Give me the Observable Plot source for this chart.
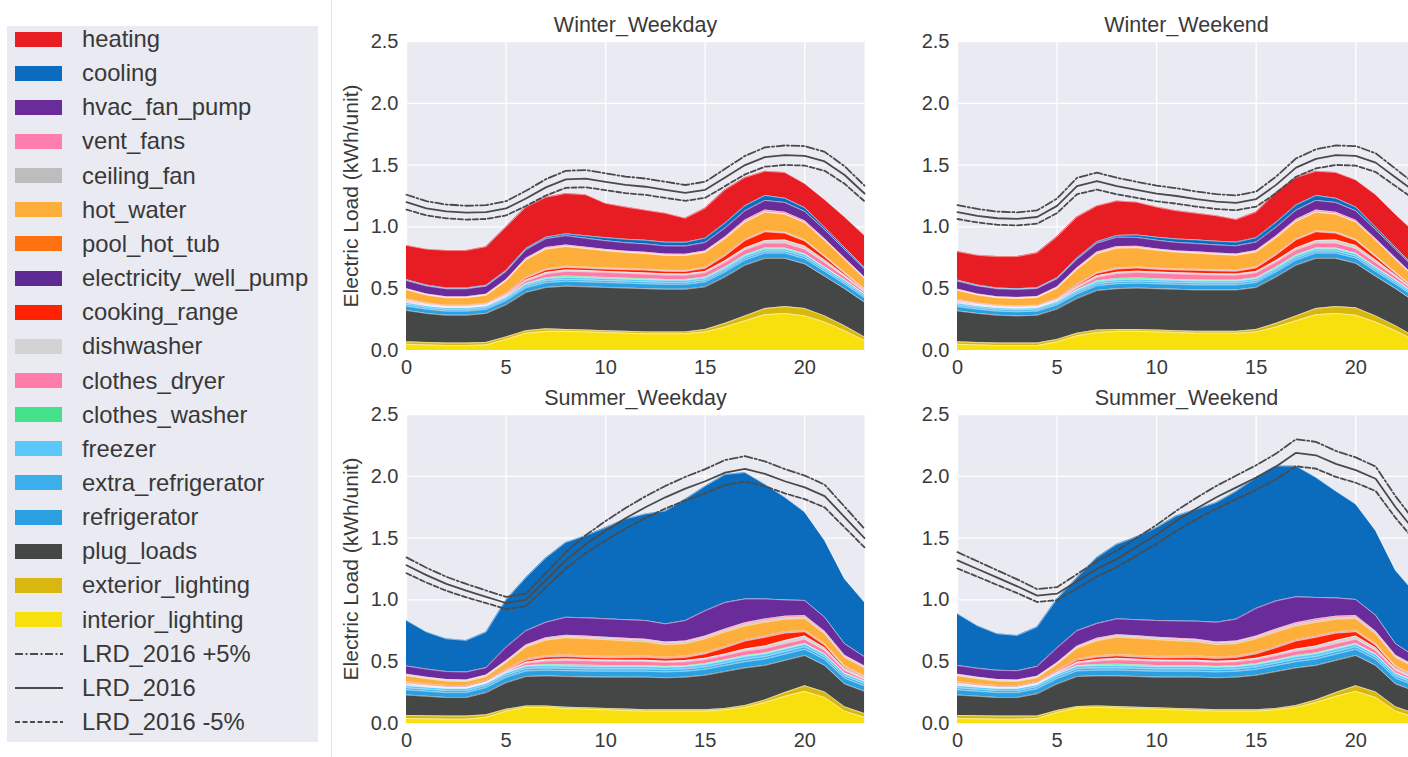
<!DOCTYPE html>
<html><head><meta charset="utf-8">
<script src="https://cdn.jsdelivr.net/npm/d3@7"></script>
<script src="https://cdn.jsdelivr.net/npm/@observablehq/plot@0.6"></script>
<style>
body{margin:0;background:#fff;}
#root{position:relative;width:1408px;height:757px;overflow:hidden;font-family:"Liberation Sans",Arial,sans-serif;background:#fff;}
.panel{position:absolute;}
#legend{position:absolute;left:7px;top:26px;width:311px;height:716px;background:#eaeaf2;}
.item{position:absolute;left:0;height:30px;width:311px;}
.item .lab{position:absolute;left:75px;top:0;line-height:30px;font-size:23.8px;color:#383838;white-space:nowrap;}
#sep{position:absolute;left:331px;top:0;width:1px;height:757px;background:#e4e4e4;}
</style></head><body><div id="root"><div id="sep"></div><div id="legend"></div></div>
<script>
// ---------- categories (legend order, top of stack first) ----------
const categories = ["heating","cooling","hvac_fan_pump","vent_fans","ceiling_fan","hot_water","pool_hot_tub","electricity_well_pump","cooking_range","dishwasher","clothes_dryer","clothes_washer","freezer","extra_refrigerator","refrigerator","plug_loads","exterior_lighting","interior_lighting"];
const colors = ["#e81c23","#0b6cbd","#6a2c9b","#ff7eb0","#bdbdbd","#fdae3b","#ff7210","#5e2b94","#ff2200","#d3d3d3","#ff7ba9","#45e08a","#5cc8fa","#3aafec","#2c9fe0","#444746","#d9b70f","#f8e00f"];
const lineNames = ["LRD_2016 +5%","LRD_2016","LRD_2016 -5%"];
const hours = [0,1,2,3,4,5,6,7,8,9,10,11,12,13,14,15,16,17,18,19,20,21,22,23];
const xTicks = [0,5,10,15,20];
const yTicks = [0,0.5,1,1.5,2,2.5];
const panelTitles = ["Winter_Weekday","Winter_Weekend","Summer_Weekday","Summer_Weekend"];

// ---------- Winter_Weekday ----------
const wd_interior_lighting = [0.05,0.045,0.04,0.04,0.045,0.09,0.14,0.155,0.155,0.15,0.145,0.14,0.135,0.135,0.135,0.15,0.19,0.24,0.29,0.30,0.28,0.23,0.16,0.08];
const wd_exterior_lighting = [0.02,0.02,0.02,0.02,0.02,0.02,0.02,0.02,0.015,0.015,0.015,0.015,0.015,0.015,0.015,0.02,0.03,0.04,0.05,0.055,0.06,0.05,0.04,0.03];
const wd_plug_loads = [0.254,0.235,0.225,0.225,0.235,0.26,0.31,0.335,0.35,0.35,0.35,0.35,0.35,0.345,0.345,0.345,0.375,0.41,0.405,0.39,0.36,0.32,0.30,0.28];
const wd_refrigerator = [0.035,0.034,0.033,0.033,0.033,0.034,0.037,0.039,0.04,0.04,0.04,0.04,0.04,0.04,0.04,0.04,0.041,0.042,0.043,0.043,0.042,0.04,0.038,0.036];
const wd_extra_refrigerator = [0.013,0.013,0.013,0.013,0.013,0.013,0.014,0.015,0.015,0.015,0.015,0.015,0.015,0.015,0.015,0.015,0.015,0.016,0.016,0.016,0.016,0.015,0.014,0.014];
const wd_freezer = [0.015,0.015,0.015,0.015,0.015,0.015,0.016,0.017,0.017,0.017,0.017,0.017,0.017,0.017,0.017,0.017,0.017,0.018,0.018,0.018,0.018,0.017,0.016,0.016];
const wd_clothes_washer = [0.002,0.001,0.001,0.001,0.001,0.002,0.005,0.008,0.01,0.01,0.009,0.008,0.008,0.007,0.007,0.007,0.007,0.008,0.008,0.007,0.006,0.005,0.004,0.003];
const wd_clothes_dryer = [0.008,0.005,0.004,0.004,0.004,0.008,0.02,0.03,0.038,0.04,0.04,0.04,0.038,0.036,0.035,0.035,0.038,0.04,0.04,0.04,0.038,0.035,0.025,0.015];
const wd_dishwasher = [0.006,0.004,0.003,0.003,0.003,0.004,0.008,0.012,0.012,0.01,0.009,0.009,0.01,0.01,0.01,0.011,0.013,0.016,0.02,0.025,0.025,0.02,0.014,0.009];
const wd_cooking_range = [0.004,0.003,0.003,0.003,0.004,0.008,0.015,0.02,0.02,0.018,0.018,0.02,0.022,0.02,0.02,0.025,0.04,0.06,0.07,0.055,0.04,0.025,0.012,0.006];
const wd_electricity_well_pump = [0.004,0.004,0.004,0.004,0.004,0.004,0.004,0.004,0.004,0.004,0.004,0.004,0.004,0.004,0.004,0.004,0.004,0.004,0.004,0.004,0.004,0.004,0.004,0.004];
const wd_pool_hot_tub = [0.005,0.005,0.005,0.005,0.005,0.005,0.005,0.005,0.005,0.005,0.005,0.005,0.005,0.005,0.005,0.005,0.005,0.005,0.005,0.005,0.005,0.005,0.005,0.005];
const wd_hot_water = [0.075,0.065,0.06,0.06,0.065,0.10,0.14,0.16,0.16,0.15,0.14,0.13,0.125,0.12,0.12,0.12,0.13,0.14,0.15,0.145,0.14,0.125,0.105,0.085];
const wd_ceiling_fan = [0.003,0.003,0.003,0.003,0.003,0.003,0.003,0.003,0.003,0.003,0.003,0.003,0.003,0.003,0.003,0.003,0.003,0.003,0.003,0.003,0.003,0.003,0.003,0.003];
const wd_vent_fans = [0.006,0.005,0.005,0.005,0.005,0.006,0.009,0.01,0.01,0.009,0.008,0.008,0.008,0.008,0.008,0.009,0.011,0.013,0.014,0.013,0.012,0.01,0.008,0.007];
const wd_hvac_fan_pump = [0.065,0.065,0.065,0.065,0.066,0.068,0.07,0.072,0.075,0.072,0.07,0.068,0.067,0.066,0.066,0.068,0.072,0.075,0.078,0.078,0.076,0.073,0.07,0.067];
const wd_cooling = [0.008,0.007,0.006,0.006,0.006,0.007,0.01,0.012,0.015,0.02,0.025,0.028,0.03,0.03,0.03,0.035,0.04,0.042,0.04,0.035,0.03,0.02,0.015,0.01];
const wd_heating = [0.277,0.291,0.305,0.305,0.313,0.353,0.334,0.323,0.326,0.332,0.277,0.26,0.243,0.234,0.195,0.241,0.269,0.228,0.196,0.208,0.195,0.223,0.247,0.26];
const wd_lrd = [1.20,1.15,1.125,1.115,1.12,1.15,1.23,1.32,1.385,1.39,1.365,1.34,1.325,1.30,1.275,1.30,1.40,1.50,1.565,1.58,1.575,1.53,1.42,1.27];
const wd_lrd_plus = [1.26,1.208,1.181,1.171,1.176,1.208,1.292,1.386,1.454,1.46,1.433,1.407,1.391,1.365,1.339,1.365,1.47,1.575,1.643,1.659,1.654,1.607,1.491,1.334];
const wd_lrd_minus = [1.14,1.093,1.069,1.059,1.064,1.093,1.169,1.254,1.316,1.321,1.297,1.273,1.259,1.235,1.211,1.235,1.33,1.425,1.487,1.501,1.496,1.454,1.349,1.207];

// ---------- Winter_Weekend ----------
const we_interior_lighting = [0.05,0.045,0.04,0.04,0.04,0.07,0.12,0.145,0.155,0.155,0.15,0.145,0.14,0.14,0.14,0.15,0.19,0.24,0.29,0.30,0.285,0.23,0.16,0.08];
const we_exterior_lighting = [0.02,0.02,0.02,0.02,0.02,0.02,0.02,0.02,0.015,0.015,0.015,0.015,0.015,0.015,0.015,0.02,0.03,0.04,0.05,0.055,0.06,0.05,0.04,0.03];
const we_plug_loads = [0.25,0.235,0.225,0.22,0.225,0.245,0.28,0.32,0.33,0.335,0.335,0.335,0.335,0.335,0.335,0.34,0.375,0.41,0.405,0.39,0.36,0.32,0.30,0.28];
const we_refrigerator = [0.035,0.034,0.033,0.033,0.033,0.034,0.037,0.039,0.04,0.04,0.04,0.04,0.04,0.04,0.04,0.04,0.041,0.042,0.043,0.043,0.042,0.04,0.038,0.036];
const we_extra_refrigerator = [0.013,0.013,0.013,0.013,0.013,0.013,0.014,0.015,0.015,0.015,0.015,0.015,0.015,0.015,0.015,0.015,0.015,0.016,0.016,0.016,0.016,0.015,0.014,0.014];
const we_freezer = [0.015,0.015,0.015,0.015,0.015,0.015,0.016,0.017,0.017,0.017,0.017,0.017,0.017,0.017,0.017,0.017,0.017,0.018,0.018,0.018,0.018,0.017,0.016,0.016];
const we_clothes_washer = [0.002,0.001,0.001,0.001,0.001,0.002,0.005,0.008,0.01,0.01,0.009,0.008,0.008,0.007,0.007,0.007,0.007,0.008,0.008,0.007,0.006,0.005,0.004,0.003];
const we_clothes_dryer = [0.008,0.005,0.004,0.004,0.004,0.006,0.015,0.028,0.04,0.045,0.045,0.045,0.044,0.042,0.04,0.04,0.04,0.04,0.04,0.04,0.038,0.035,0.025,0.015];
const we_dishwasher = [0.006,0.004,0.003,0.003,0.003,0.004,0.008,0.012,0.012,0.01,0.009,0.009,0.01,0.01,0.01,0.011,0.013,0.016,0.02,0.025,0.025,0.02,0.014,0.009];
const we_cooking_range = [0.004,0.003,0.003,0.003,0.003,0.006,0.012,0.02,0.025,0.025,0.022,0.022,0.024,0.022,0.022,0.028,0.045,0.065,0.07,0.055,0.04,0.025,0.012,0.006];
const we_electricity_well_pump = [0.004,0.004,0.004,0.004,0.004,0.004,0.004,0.004,0.004,0.004,0.004,0.004,0.004,0.004,0.004,0.004,0.004,0.004,0.004,0.004,0.004,0.004,0.004,0.004];
const we_pool_hot_tub = [0.005,0.005,0.005,0.005,0.005,0.005,0.005,0.005,0.005,0.005,0.005,0.005,0.005,0.005,0.005,0.005,0.005,0.005,0.005,0.005,0.005,0.005,0.005,0.005];
const we_hot_water = [0.075,0.065,0.06,0.06,0.062,0.08,0.12,0.15,0.16,0.155,0.145,0.135,0.13,0.125,0.12,0.12,0.13,0.14,0.15,0.145,0.14,0.125,0.105,0.085];
const we_ceiling_fan = [0.003,0.003,0.003,0.003,0.003,0.003,0.003,0.003,0.003,0.003,0.003,0.003,0.003,0.003,0.003,0.003,0.003,0.003,0.003,0.003,0.003,0.003,0.003,0.003];
const we_vent_fans = [0.006,0.005,0.005,0.005,0.005,0.006,0.009,0.01,0.01,0.009,0.008,0.008,0.008,0.008,0.008,0.009,0.011,0.013,0.014,0.013,0.012,0.01,0.008,0.007];
const we_hvac_fan_pump = [0.065,0.065,0.065,0.065,0.066,0.068,0.07,0.072,0.075,0.072,0.07,0.068,0.067,0.066,0.066,0.068,0.072,0.075,0.078,0.078,0.076,0.073,0.07,0.067];
const we_cooling = [0.008,0.007,0.006,0.006,0.006,0.007,0.01,0.012,0.015,0.02,0.025,0.028,0.03,0.03,0.03,0.035,0.04,0.042,0.04,0.035,0.03,0.02,0.015,0.01];
const we_heating = [0.231,0.241,0.255,0.26,0.282,0.332,0.332,0.29,0.279,0.265,0.243,0.228,0.215,0.206,0.183,0.208,0.242,0.223,0.196,0.208,0.22,0.263,0.267,0.28];
const we_lrd = [1.12,1.09,1.07,1.065,1.08,1.17,1.33,1.37,1.33,1.30,1.27,1.25,1.225,1.205,1.195,1.225,1.34,1.48,1.55,1.58,1.575,1.52,1.40,1.28];
const we_lrd_plus = [1.176,1.145,1.124,1.118,1.134,1.229,1.397,1.439,1.397,1.365,1.334,1.313,1.286,1.265,1.255,1.286,1.407,1.554,1.628,1.659,1.654,1.596,1.47,1.344];
const we_lrd_minus = [1.064,1.036,1.017,1.012,1.026,1.112,1.264,1.302,1.264,1.235,1.207,1.188,1.164,1.145,1.135,1.164,1.273,1.406,1.473,1.501,1.496,1.444,1.33,1.216];

// ---------- Summer_Weekday ----------
const sd_interior_lighting = [0.04,0.038,0.035,0.035,0.05,0.10,0.13,0.13,0.12,0.115,0.11,0.105,0.10,0.10,0.10,0.10,0.11,0.13,0.17,0.22,0.26,0.21,0.10,0.05];
const sd_exterior_lighting = [0.025,0.025,0.025,0.025,0.02,0.015,0.012,0.012,0.012,0.012,0.012,0.012,0.012,0.012,0.012,0.012,0.012,0.015,0.02,0.03,0.045,0.045,0.035,0.03];
const sd_plug_loads = [0.165,0.157,0.15,0.15,0.18,0.215,0.238,0.243,0.248,0.25,0.253,0.258,0.263,0.258,0.263,0.278,0.298,0.305,0.28,0.26,0.245,0.215,0.185,0.18];
const sd_refrigerator = [0.042,0.041,0.04,0.04,0.041,0.043,0.045,0.046,0.047,0.047,0.047,0.047,0.047,0.047,0.047,0.048,0.049,0.05,0.051,0.051,0.05,0.048,0.046,0.044];
const sd_extra_refrigerator = [0.016,0.016,0.016,0.016,0.016,0.017,0.018,0.018,0.018,0.018,0.018,0.018,0.018,0.018,0.018,0.019,0.019,0.02,0.02,0.02,0.02,0.019,0.018,0.017];
const sd_freezer = [0.018,0.018,0.018,0.018,0.018,0.019,0.02,0.02,0.02,0.02,0.02,0.02,0.02,0.02,0.02,0.021,0.021,0.022,0.022,0.022,0.022,0.021,0.02,0.019];
const sd_clothes_washer = [0.002,0.001,0.001,0.001,0.001,0.002,0.005,0.008,0.01,0.01,0.009,0.008,0.008,0.007,0.007,0.007,0.007,0.008,0.008,0.007,0.006,0.005,0.004,0.003];
const sd_clothes_dryer = [0.008,0.005,0.004,0.004,0.004,0.008,0.02,0.028,0.035,0.035,0.035,0.035,0.034,0.032,0.032,0.032,0.034,0.036,0.036,0.036,0.034,0.03,0.022,0.014];
const sd_dishwasher = [0.006,0.004,0.003,0.003,0.003,0.004,0.008,0.012,0.012,0.01,0.009,0.009,0.01,0.01,0.01,0.011,0.013,0.016,0.02,0.025,0.025,0.02,0.014,0.009];
const sd_cooking_range = [0.004,0.003,0.003,0.003,0.004,0.008,0.015,0.02,0.02,0.018,0.018,0.02,0.022,0.022,0.025,0.035,0.05,0.065,0.07,0.06,0.035,0.02,0.01,0.006];
const sd_electricity_well_pump = [0.004,0.004,0.004,0.004,0.004,0.004,0.004,0.004,0.004,0.004,0.004,0.004,0.004,0.004,0.004,0.004,0.004,0.004,0.004,0.004,0.004,0.004,0.004,0.004];
const sd_pool_hot_tub = [0.008,0.008,0.008,0.008,0.008,0.008,0.008,0.008,0.008,0.008,0.008,0.008,0.008,0.008,0.008,0.008,0.008,0.008,0.008,0.008,0.008,0.008,0.008,0.008];
const sd_hot_water = [0.047,0.042,0.036,0.032,0.03,0.05,0.095,0.125,0.14,0.14,0.135,0.125,0.115,0.1,0.1,0.11,0.115,0.11,0.11,0.1,0.095,0.08,0.068,0.065];
const sd_ceiling_fan = [0.008,0.008,0.008,0.008,0.008,0.008,0.009,0.01,0.01,0.011,0.012,0.012,0.013,0.013,0.013,0.013,0.013,0.013,0.013,0.012,0.012,0.011,0.01,0.009];
const sd_vent_fans = [0.006,0.005,0.005,0.005,0.005,0.006,0.009,0.01,0.01,0.009,0.008,0.008,0.008,0.008,0.008,0.009,0.011,0.013,0.014,0.013,0.012,0.01,0.008,0.007];
const sd_hvac_fan_pump = [0.066,0.065,0.064,0.065,0.06,0.11,0.115,0.125,0.145,0.148,0.149,0.151,0.151,0.147,0.166,0.205,0.215,0.193,0.162,0.132,0.122,0.114,0.093,0.075];
const sd_cooling = [0.368,0.30,0.265,0.255,0.288,0.383,0.429,0.521,0.606,0.665,0.738,0.815,0.862,0.914,0.982,1.008,1.036,1.022,0.927,0.83,0.715,0.62,0.525,0.44];
const sd_heating = [0,0,0,0,0,0,0,0,0,0,0,0,0,0,0,0,0,0,0,0,0,0,0,0];
const sd_lrd = [1.28,1.20,1.13,1.075,1.025,0.975,1.0,1.16,1.32,1.45,1.56,1.66,1.75,1.83,1.90,1.96,2.03,2.06,2.02,1.96,1.91,1.84,1.67,1.50];
const sd_lrd_plus = [1.344,1.26,1.187,1.129,1.076,1.024,1.05,1.218,1.386,1.523,1.638,1.743,1.838,1.922,1.995,2.058,2.132,2.163,2.121,2.058,2.006,1.932,1.754,1.575];
const sd_lrd_minus = [1.216,1.14,1.074,1.021,0.974,0.926,0.95,1.102,1.254,1.378,1.482,1.577,1.663,1.739,1.805,1.862,1.929,1.957,1.919,1.862,1.815,1.748,1.587,1.425];

// ---------- Summer_Weekend ----------
const se_interior_lighting = [0.04,0.038,0.035,0.035,0.04,0.09,0.125,0.13,0.125,0.12,0.115,0.11,0.105,0.10,0.10,0.10,0.11,0.13,0.17,0.22,0.26,0.21,0.10,0.05];
const se_exterior_lighting = [0.025,0.025,0.025,0.025,0.02,0.015,0.012,0.012,0.012,0.012,0.012,0.012,0.012,0.012,0.012,0.012,0.012,0.015,0.02,0.03,0.045,0.045,0.035,0.03];
const se_plug_loads = [0.165,0.157,0.15,0.15,0.18,0.215,0.243,0.243,0.248,0.248,0.248,0.253,0.258,0.258,0.263,0.278,0.298,0.305,0.28,0.26,0.245,0.215,0.185,0.18];
const se_refrigerator = [0.042,0.041,0.04,0.04,0.041,0.043,0.045,0.046,0.047,0.047,0.047,0.047,0.047,0.047,0.047,0.048,0.049,0.05,0.051,0.051,0.05,0.048,0.046,0.044];
const se_extra_refrigerator = [0.016,0.016,0.016,0.016,0.016,0.017,0.018,0.018,0.018,0.018,0.018,0.018,0.018,0.018,0.018,0.019,0.019,0.02,0.02,0.02,0.02,0.019,0.018,0.017];
const se_freezer = [0.018,0.018,0.018,0.018,0.018,0.019,0.02,0.02,0.02,0.02,0.02,0.02,0.02,0.02,0.02,0.021,0.021,0.022,0.022,0.022,0.022,0.021,0.02,0.019];
const se_clothes_washer = [0.002,0.001,0.001,0.001,0.001,0.002,0.005,0.008,0.01,0.01,0.009,0.008,0.008,0.007,0.007,0.007,0.007,0.008,0.008,0.007,0.006,0.005,0.004,0.003];
const se_clothes_dryer = [0.008,0.005,0.004,0.004,0.004,0.008,0.02,0.028,0.035,0.035,0.035,0.035,0.034,0.032,0.032,0.032,0.034,0.036,0.036,0.036,0.034,0.03,0.022,0.014];
const se_dishwasher = [0.006,0.004,0.003,0.003,0.003,0.004,0.008,0.012,0.012,0.01,0.009,0.009,0.01,0.01,0.01,0.011,0.013,0.016,0.02,0.025,0.025,0.02,0.014,0.009];
const se_cooking_range = [0.004,0.003,0.003,0.003,0.004,0.008,0.015,0.02,0.02,0.018,0.018,0.02,0.022,0.022,0.025,0.035,0.05,0.065,0.07,0.06,0.035,0.02,0.01,0.006];
const se_electricity_well_pump = [0.004,0.004,0.004,0.004,0.004,0.004,0.004,0.004,0.004,0.004,0.004,0.004,0.004,0.004,0.004,0.004,0.004,0.004,0.004,0.004,0.004,0.004,0.004,0.004];
const se_pool_hot_tub = [0.008,0.008,0.008,0.008,0.008,0.008,0.008,0.008,0.008,0.008,0.008,0.008,0.008,0.008,0.008,0.008,0.008,0.008,0.008,0.008,0.008,0.008,0.008,0.008];
const se_hot_water = [0.047,0.042,0.036,0.032,0.03,0.045,0.085,0.12,0.14,0.14,0.135,0.125,0.115,0.1,0.1,0.11,0.115,0.11,0.11,0.1,0.095,0.08,0.068,0.065];
const se_ceiling_fan = [0.008,0.008,0.008,0.008,0.008,0.008,0.009,0.01,0.01,0.011,0.012,0.012,0.013,0.013,0.013,0.013,0.013,0.013,0.013,0.012,0.012,0.011,0.01,0.009];
const se_vent_fans = [0.006,0.005,0.005,0.005,0.005,0.006,0.009,0.01,0.01,0.009,0.008,0.008,0.008,0.008,0.008,0.009,0.011,0.013,0.014,0.013,0.012,0.01,0.008,0.007];
const se_hvac_fan_pump = [0.07,0.072,0.074,0.075,0.08,0.12,0.125,0.12,0.128,0.13,0.135,0.141,0.146,0.16,0.178,0.225,0.228,0.21,0.174,0.148,0.13,0.13,0.093,0.075];
const se_cooling = [0.418,0.343,0.296,0.285,0.318,0.396,0.429,0.535,0.603,0.67,0.753,0.85,0.906,0.969,1.035,1.058,1.091,1.058,0.97,0.864,0.771,0.684,0.592,0.51];
const se_heating = [0,0,0,0,0,0,0,0,0,0,0,0,0,0,0,0,0,0,0,0,0,0,0,0];
const se_lrd = [1.32,1.25,1.18,1.11,1.035,1.05,1.15,1.25,1.33,1.43,1.53,1.64,1.74,1.83,1.91,1.99,2.08,2.19,2.17,2.10,2.05,1.98,1.75,1.55];
const se_lrd_plus = [1.386,1.313,1.239,1.166,1.087,1.103,1.208,1.313,1.397,1.502,1.607,1.722,1.827,1.922,2.006,2.09,2.184,2.30,2.279,2.205,2.153,2.079,1.838,1.628];
const se_lrd_minus = [1.254,1.188,1.121,1.055,0.983,0.998,1.093,1.188,1.264,1.359,1.454,1.558,1.653,1.739,1.815,1.891,1.976,2.081,2.062,1.995,1.948,1.881,1.663,1.473];

// ---------- assemble ----------
function seriesOf(prefix) {
  const src = {
    wd: {heating:wd_heating,cooling:wd_cooling,hvac_fan_pump:wd_hvac_fan_pump,vent_fans:wd_vent_fans,ceiling_fan:wd_ceiling_fan,hot_water:wd_hot_water,pool_hot_tub:wd_pool_hot_tub,electricity_well_pump:wd_electricity_well_pump,cooking_range:wd_cooking_range,dishwasher:wd_dishwasher,clothes_dryer:wd_clothes_dryer,clothes_washer:wd_clothes_washer,freezer:wd_freezer,extra_refrigerator:wd_extra_refrigerator,refrigerator:wd_refrigerator,plug_loads:wd_plug_loads,exterior_lighting:wd_exterior_lighting,interior_lighting:wd_interior_lighting, lines:[wd_lrd_plus,wd_lrd,wd_lrd_minus]},
    we: {heating:we_heating,cooling:we_cooling,hvac_fan_pump:we_hvac_fan_pump,vent_fans:we_vent_fans,ceiling_fan:we_ceiling_fan,hot_water:we_hot_water,pool_hot_tub:we_pool_hot_tub,electricity_well_pump:we_electricity_well_pump,cooking_range:we_cooking_range,dishwasher:we_dishwasher,clothes_dryer:we_clothes_dryer,clothes_washer:we_clothes_washer,freezer:we_freezer,extra_refrigerator:we_extra_refrigerator,refrigerator:we_refrigerator,plug_loads:we_plug_loads,exterior_lighting:we_exterior_lighting,interior_lighting:we_interior_lighting, lines:[we_lrd_plus,we_lrd,we_lrd_minus]},
    sd: {heating:sd_heating,cooling:sd_cooling,hvac_fan_pump:sd_hvac_fan_pump,vent_fans:sd_vent_fans,ceiling_fan:sd_ceiling_fan,hot_water:sd_hot_water,pool_hot_tub:sd_pool_hot_tub,electricity_well_pump:sd_electricity_well_pump,cooking_range:sd_cooking_range,dishwasher:sd_dishwasher,clothes_dryer:sd_clothes_dryer,clothes_washer:sd_clothes_washer,freezer:sd_freezer,extra_refrigerator:sd_extra_refrigerator,refrigerator:sd_refrigerator,plug_loads:sd_plug_loads,exterior_lighting:sd_exterior_lighting,interior_lighting:sd_interior_lighting, lines:[sd_lrd_plus,sd_lrd,sd_lrd_minus]},
    se: {heating:se_heating,cooling:se_cooling,hvac_fan_pump:se_hvac_fan_pump,vent_fans:se_vent_fans,ceiling_fan:se_ceiling_fan,hot_water:se_hot_water,pool_hot_tub:se_pool_hot_tub,electricity_well_pump:se_electricity_well_pump,cooking_range:se_cooking_range,dishwasher:se_dishwasher,clothes_dryer:se_clothes_dryer,clothes_washer:se_clothes_washer,freezer:se_freezer,extra_refrigerator:se_extra_refrigerator,refrigerator:se_refrigerator,plug_loads:se_plug_loads,exterior_lighting:se_exterior_lighting,interior_lighting:se_interior_lighting, lines:[se_lrd_plus,se_lrd,se_lrd_minus]}
  };
  return src[prefix];
}

const stackOrder = categories.slice().reverse(); // bottom -> top
const dashes = ["8,2.5,2,2.5", null, "5,2.5"];
const textColor = "#3a3a3a";
const font = "'Liberation Sans', Arial, sans-serif";

const layout = [
  {key:"wd", title:panelTitles[0], left:335, top:0,   width:540, height:380, mt:41, mb:30, ml:71, mr:11, ylabel:true},
  {key:"we", title:panelTitles[1], left:880, top:0,   width:546, height:380, mt:41, mb:30, ml:77, mr:11, ylabel:false},
  {key:"sd", title:panelTitles[2], left:335, top:380, width:540, height:377, mt:34, mb:34, ml:71, mr:11, ylabel:true},
  {key:"se", title:panelTitles[3], left:880, top:380, width:546, height:377, mt:34, mb:34, ml:77, mr:11, ylabel:false}
];

function makePanel(p) {
  const s = seriesOf(p.key);
  const rows = [];
  for (const cat of stackOrder) s[cat].forEach((v, i) => rows.push({hour: hours[i], value: v, cat}));
  const lineRows = [];
  s.lines.forEach((arr, k) => arr.forEach((v, i) => lineRows.push({hour: hours[i], value: v, name: lineNames[k]})));
  const marks = [
    Plot.frame({fill: "#eaeaf2", stroke: "none"}),
    Plot.gridX(xTicks, {stroke: "#fff", strokeOpacity: 1, strokeWidth: 1.3}),
    Plot.gridY(yTicks, {stroke: "#fff", strokeOpacity: 1, strokeWidth: 1.3}),
    Plot.areaY(rows, {x: "hour", y: "value", z: "cat", fill: "cat", order: stackOrder, curve: "linear"}),
    Plot.lineY(rows.filter(d => d.cat !== "heating" || d.value > 0), Plot.stackY2({x: "hour", y: "value", z: "cat", order: stackOrder, stroke: "#ffffff", strokeOpacity: 0.55, strokeWidth: 0.9})),
  ];
  lineNames.forEach((nm, k) => {
    marks.push(Plot.line(lineRows.filter(d => d.name === nm), {x: "hour", y: "value", stroke: "#4a4a4a", strokeWidth: 1.8, strokeDasharray: dashes[k] || undefined}));
  });
  marks.push(
    Plot.axisX(xTicks, {tickSize: 0, tickPadding: 9, fontSize: 20, label: null}),
    Plot.axisY(yTicks, {tickSize: 0, tickPadding: 8, fontSize: 20, label: null, tickFormat: d3.format(".1f")}),
    Plot.text([p.title], {frameAnchor: "top", lineAnchor: "middle", dy: -16, fontSize: 21.5, fill: textColor})
  );
  if (p.ylabel) marks.push(Plot.text(["Electric Load (kWh/unit)"], {frameAnchor: "left", rotate: -90, dx: -55, lineAnchor: "middle", textAnchor: "middle", fontSize: 21, fill: textColor}));
  const svg = Plot.plot({
    width: p.width, height: p.height,
    marginTop: p.mt, marginBottom: p.mb, marginLeft: p.ml, marginRight: p.mr,
    x: {domain: [0, 23]},
    y: {domain: [0, 2.5]},
    color: {domain: categories, range: colors},
    style: {fontFamily: font, fontSize: "20px", color: textColor, background: "transparent", overflow: "visible"},
    marks
  });
  svg.classList.add("panel");
  svg.style.left = p.left + "px";
  svg.style.top = p.top + "px";
  svg.style.position = "absolute";
  document.getElementById("root").appendChild(svg);
}
layout.forEach(makePanel);

// ---------- legend ----------
const legend = document.getElementById("legend");
const rowStep = 34.15;
categories.forEach((c, i) => {
  const div = document.createElement("div");
  div.className = "item";
  div.style.top = (13 + rowStep * i - 15) + "px";
  div.innerHTML = `<div style="position:absolute;left:8px;top:7.5px;width:47px;height:15px;background:${colors[i]}"></div><div class="lab">${c}</div>`;
  legend.appendChild(div);
});
lineNames.forEach((nm, k) => {
  const i = categories.length + k;
  const div = document.createElement("div");
  div.className = "item";
  div.style.top = (13 + rowStep * i - 15) + "px";
  const da = dashes[k] ? `stroke-dasharray="${dashes[k]}"` : "";
  div.innerHTML = `<svg style="position:absolute;left:7px;top:0" width="50" height="30"><line x1="1" y1="15" x2="49" y2="15" stroke="#4a4a4a" stroke-width="1.8" ${da}/></svg><div class="lab">${nm}</div>`;
  legend.appendChild(div);
});
</script>
</body></html>
